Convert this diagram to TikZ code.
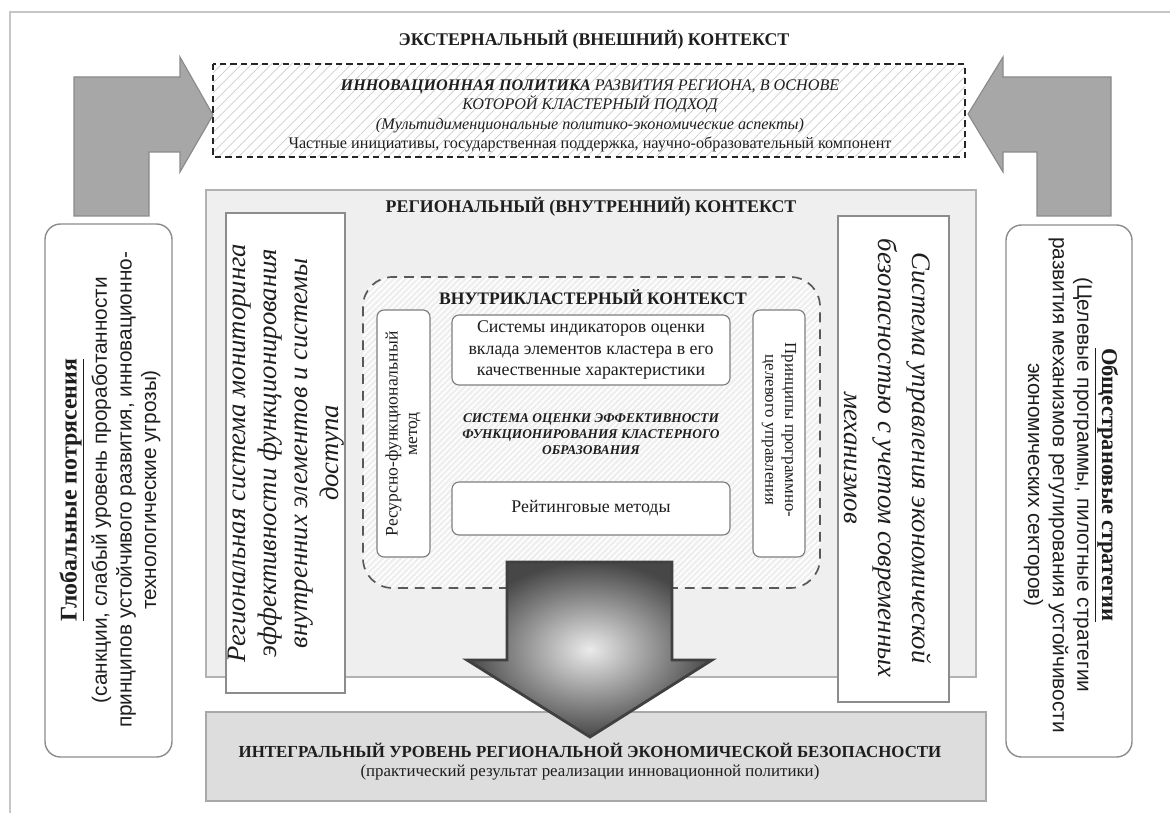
\documentclass[tikz,border=0pt]{standalone}
\usepackage{fontspec}
\setmainfont{Liberation Serif}
\setsansfont{Liberation Sans}
\usetikzlibrary{patterns.meta}

\definecolor{framegray}{HTML}{C6C6C6}
\definecolor{arrowgray}{HTML}{A7A7A7}
\definecolor{arrowedge}{HTML}{8A8A8A}
\definecolor{regfill}{HTML}{EFEFEF}
\definecolor{botfill}{HTML}{DDDDDD}
\definecolor{boxgray}{HTML}{8C8C8C}
\definecolor{textdark}{HTML}{1E1E1E}

\begin{document}
\begin{tikzpicture}[x=0.025cm, y=-0.025cm,
        headline/.style={font=\bfseries\fontsize{12.7}{15}\selectfont, text=textdark},
        whitebox/.style={draw=boxgray, fill=white, line width=1pt},
        smallbox/.style={draw=boxgray!90!black, fill=white, line width=0.8pt, rounded corners=5pt},
        sidebox/.style={draw=boxgray, fill=white, line width=1pt, rounded corners=11pt},
        bentarrow/.style={fill=arrowgray, draw=arrowedge, line width=0.8pt},
        bodytext/.style={align=center, text=textdark}]
    \useasboundingbox (0,0) rectangle (1170,813);

    % Frame
    \draw[framegray, line width=1.2pt] (10,813) -- (10,12) -- (1170,12);

    % External context
    \node[headline] (ext) at (594,40) {ЭКСТЕРНАЛЬНЫЙ (ВНЕШНИЙ) КОНТЕКСТ};
    \path[fill=white, pattern={Lines[angle=45,distance=5pt,line width=0.5pt]}, pattern color=gray!40]
        (213,64) rectangle (965,157);
    \draw[black!85, line width=1.8pt, dash pattern=on 4.5pt off 3pt] (213,64) rectangle (965,157);
    \node[bodytext, font=\fontsize{11.5}{13.5}\selectfont] (innov) at (590,116)
        {{\bfseries\itshape ИННОВАЦИОННАЯ ПОЛИТИКА} {\itshape РАЗВИТИЯ РЕГИОНА, В ОСНОВЕ}\\
         {\itshape КОТОРОЙ КЛАСТЕРНЫЙ ПОДХОД}\\[1pt]
         {\itshape (Мультидименциональные политико-экономические аспекты)}\\
         Частные инициативы, государственная поддержка, научно-образовательный компонент};

    % Bent arrows
    \draw[bentarrow] (74,216) -- (74,77) -- (180,77) -- (180,57) -- (213,115)
        -- (180,172) -- (180,152) -- (149,152) -- (149,216) -- cycle;
    \draw[bentarrow] (1111,216) -- (1111,77) -- (1003,77) -- (1003,57) -- (968,114)
        -- (1003,172) -- (1003,152) -- (1037,152) -- (1037,216) -- cycle;

    % Side boxes
    \draw[sidebox] (45,224) rectangle (172,757);
    \node[bodytext, rotate=90, font=\sffamily\fontsize{14.8}{17.5}\selectfont] (glob) at (110,490)
        {{\rmfamily\bfseries\fontsize{17}{17}\selectfont\underline{Глобальные потрясения}}\\[4pt]
         (санкции, слабый уровень проработанности\\
         принципов устойчивого развития, инновационно-\\
         технологические угрозы)};
    \draw[sidebox] (1006,225) rectangle (1132,757);
    \node[bodytext, rotate=-90, font=\sffamily\fontsize{14.8}{17.5}\selectfont] (strat) at (1071,485)
        {{\rmfamily\bfseries\fontsize{16}{16}\selectfont\underline{Общестрановые стратегии}}\\
         (Целевые программы, пилотные стратегии\\
         развития механизмов регулирования устойчивости\\
         экономических секторов)};

    % Regional context
    \draw[fill=regfill, draw=framegray!90!black, line width=1.5pt] (206,190) rectangle (976,677);
    \node[headline] (reg) at (591,207) {РЕГИОНАЛЬНЫЙ (ВНУТРЕННИЙ) КОНТЕКСТ};
    \draw[whitebox] (226,213) rectangle (345,693);
    \node[bodytext, rotate=90, font=\itshape\fontsize{19}{22}\selectfont] (monit) at (286,453)
        {Региональная система мониторинга\\
         эффективности функционирования\\
         внутренних элементов и системы\\
         доступа};
    \draw[whitebox] (838,216) rectangle (949,702);
    \node[bodytext, rotate=-90, font=\itshape\fontsize{19}{24}\selectfont] (manage) at (888,458)
        {Система управления экономической\\
         безопасностью с учетом современных\\
         механизмов};

    % Cluster context
    \path[fill=black!13, pattern={Lines[angle=45,distance=3pt,line width=0.9pt]}, pattern color=white,
        rounded corners=21pt] (363,277) rectangle (820,588);
    \path[pattern={Lines[angle=45,distance=3pt,line width=0.9pt]}, pattern color=white,
        rounded corners=21pt] (363,277) rectangle (820,588);
    \draw[black!65, line width=1.2pt, dash pattern=on 7pt off 5pt, rounded corners=21pt]
        (363,277) rectangle (820,588);
    \node[headline, font=\bfseries\fontsize{12.5}{15}\selectfont] (clust) at (593,297) {ВНУТРИКЛАСТЕРНЫЙ КОНТЕКСТ};
    \draw[smallbox] (377,310) rectangle (430,557);
    \node[bodytext, rotate=90, font=\fontsize{12.5}{14}\selectfont] (resurs) at (403,434)
        {Ресурсно-функциональный\\ метод};
    \draw[smallbox] (753,310) rectangle (805,557);
    \node[bodytext, rotate=-90, font=\fontsize{12}{14}\selectfont] (princ) at (779,430)
        {Принципы программно-\\ целевого управления};
    \draw[smallbox] (452,315) rectangle (730,385);
    \node[bodytext, font=\fontsize{12.7}{15}\selectfont] (indic) at (591,350)
        {Системы индикаторов оценки\\
         вклада элементов кластера в его\\
         качественные характеристики};
    \node[bodytext, font=\bfseries\itshape\fontsize{9.5}{11.5}\selectfont] (eff) at (591,434)
        {СИСТЕМА ОЦЕНКИ ЭФФЕКТИВНОСТИ\\
         ФУНКЦИОНИРОВАНИЯ КЛАСТЕРНОГО\\
         ОБРАЗОВАНИЯ};
    \draw[smallbox] (452,482) rectangle (730,535);
    \node[bodytext, font=\fontsize{12.7}{15}\selectfont] (rating) at (591,508) {Рейтинговые методы};

    % Integral level
    \draw[fill=botfill, draw=framegray!85!black, line width=1.5pt] (206,712) rectangle (986,801);
    \node[headline, font=\bfseries\fontsize{12}{14}\selectfont] (integ) at (590,750)
        {ИНТЕГРАЛЬНЫЙ УРОВЕНЬ РЕГИОНАЛЬНОЙ ЭКОНОМИЧЕСКОЙ БЕЗОПАСНОСТИ};
    \node[bodytext, font=\fontsize{12}{14}\selectfont] (result) at (590,772)
        {(практический результат реализации инновационной политики)};

    % Big arrow
    \shadedraw[draw=black!75, line width=2pt, inner color=black!8, outer color=black!72]
        (507,562) -- (672,562) -- (672,660) -- (712,660) -- (590,737) -- (467,660) -- (507,660) -- cycle;
\end{tikzpicture}
\end{document}
